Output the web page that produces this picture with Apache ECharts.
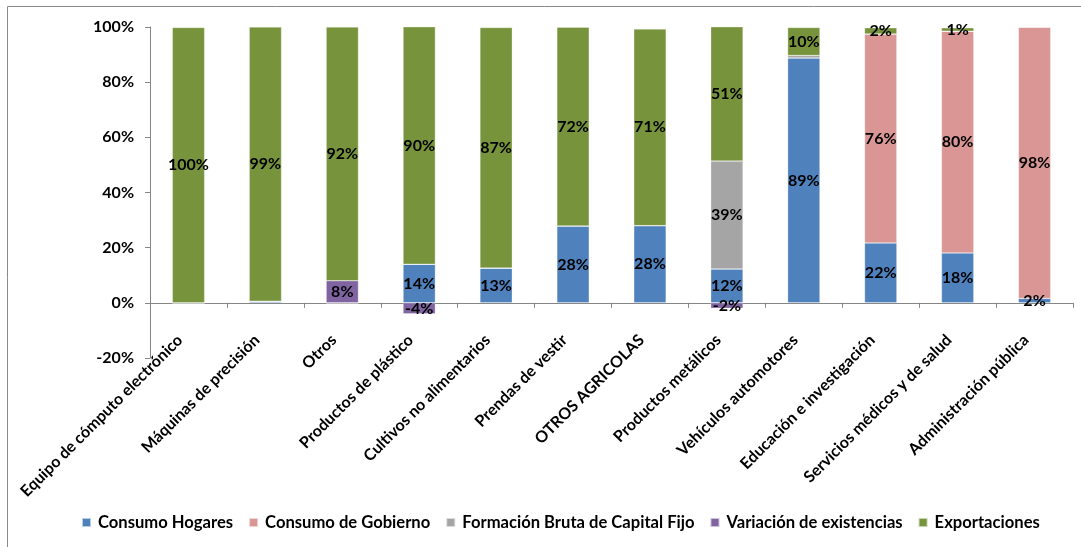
<!DOCTYPE html>
<html>
<head>
<meta charset="utf-8">
<script src="https://cdn.jsdelivr.net/npm/echarts@6/dist/echarts.min.js"></script>
<style>html,body{margin:0;padding:0;background:#fff}#c{width:1081px;height:547px}</style>
</head>
<body>
<div id="c"></div>
<script>
const categories = ['Equipo de cómputo electrónico','Máquinas de precisión','Otros','Productos de plástico','Cultivos no alimentarios','Prendas de vestir','OTROS AGRICOLAS','Productos metálicos','Vehículos automotores','Educación e investigación','Servicios médicos y de salud','Administración pública'];
const seriesNames = ['Consumo Hogares','Consumo de Gobierno','Formación Bruta de Capital Fijo','Variación de existencias','Exportaciones'];
const hogares      = [0, 0.6, 0, 14, 12.6, 27.9, 28, 12.3, 88.8, 21.7, 18.1, 1.6];
const gobierno     = [0, 0, 0, 0, 0, 0, 0, 0, 0, 75.8, 80.4, 98.4];
const fbkf         = [0, 0, 0, 0, 0, 0, 0, 39.1, 0.9, 0, 0, 0];
const variacion    = [0, 0, 8, -4, 0, 0, 0, -2, 0, 0, 0, 0];
const exportaciones= [99.8, 99.4, 92, 90, 87.2, 72, 71.3, 50.6, 10.1, 2.2, 1.2, 0];
const yTicks = [-20, 0, 20, 40, 60, 80, 100];

const colors = ['#4F81BD','#D99694','#A5A5A5','#8064A2','#77933C'];
const values = [hogares, gobierno, fbkf, variacion, exportaciones];
const FONT = 'Lato';

const chart = echarts.init(document.getElementById('c'), null, {renderer:'canvas'});
chart.setOption({
  animation:false,
  color: colors,
  graphic: [{type:'rect', z:-10, shape:{x:7.5,y:6.5,width:1200,height:700}, style:{fill:'none', stroke:'#8a8a8a', lineWidth:1}}],
  grid:{left:150,right:8,top:27,bottom:189},
  legend:{
    data: seriesNames, bottom:11, left:76,
    icon:'rect', itemWidth:9, itemHeight:9, itemGap:15,
    textStyle:{fontFamily:FONT, fontWeight:'bold', fontSize:16.6, color:'#000', padding:[0,0,0,2]}
  },
  xAxis:{
    type:'category', data: categories,
    axisLine:{onZero:true, lineStyle:{color:'#868686'}},
    axisTick:{show:true, length:5, lineStyle:{color:'#868686'}},
    axisLabel:{rotate:45, margin:-29, interval:0, padding:[0,12,0,0], fontFamily:FONT, fontWeight:'bold', fontSize:16, color:'#000'}
  },
  yAxis:{
    type:'value', min:yTicks[0], max:yTicks[yTicks.length-1], interval:20,
    splitLine:{show:false},
    axisLine:{show:true, lineStyle:{color:'#868686'}},
    axisTick:{show:true, length:5, lineStyle:{color:'#868686'}},
    axisLabel:{margin:16, formatter:'{value}%', fontFamily:FONT, fontWeight:'bold', fontSize:16, color:'#000'}
  },
  series: seriesNames.map((n,i)=>({
    name:n, type:'bar', stack:'total', barWidth:'42%',
    data: values[i].map(v=>({value:v, label:{show: Math.abs(v)>=1}})),
    itemStyle:{color:colors[i], borderColor:'rgba(255,255,255,0.6)', borderWidth:0.5},
    label:{position:'inside', fontFamily:FONT, fontWeight:'bold', fontSize:16, color:'#000',
      formatter: p => Math.round(p.value)+'%'}
  }))
});
</script>
</body>
</html>
